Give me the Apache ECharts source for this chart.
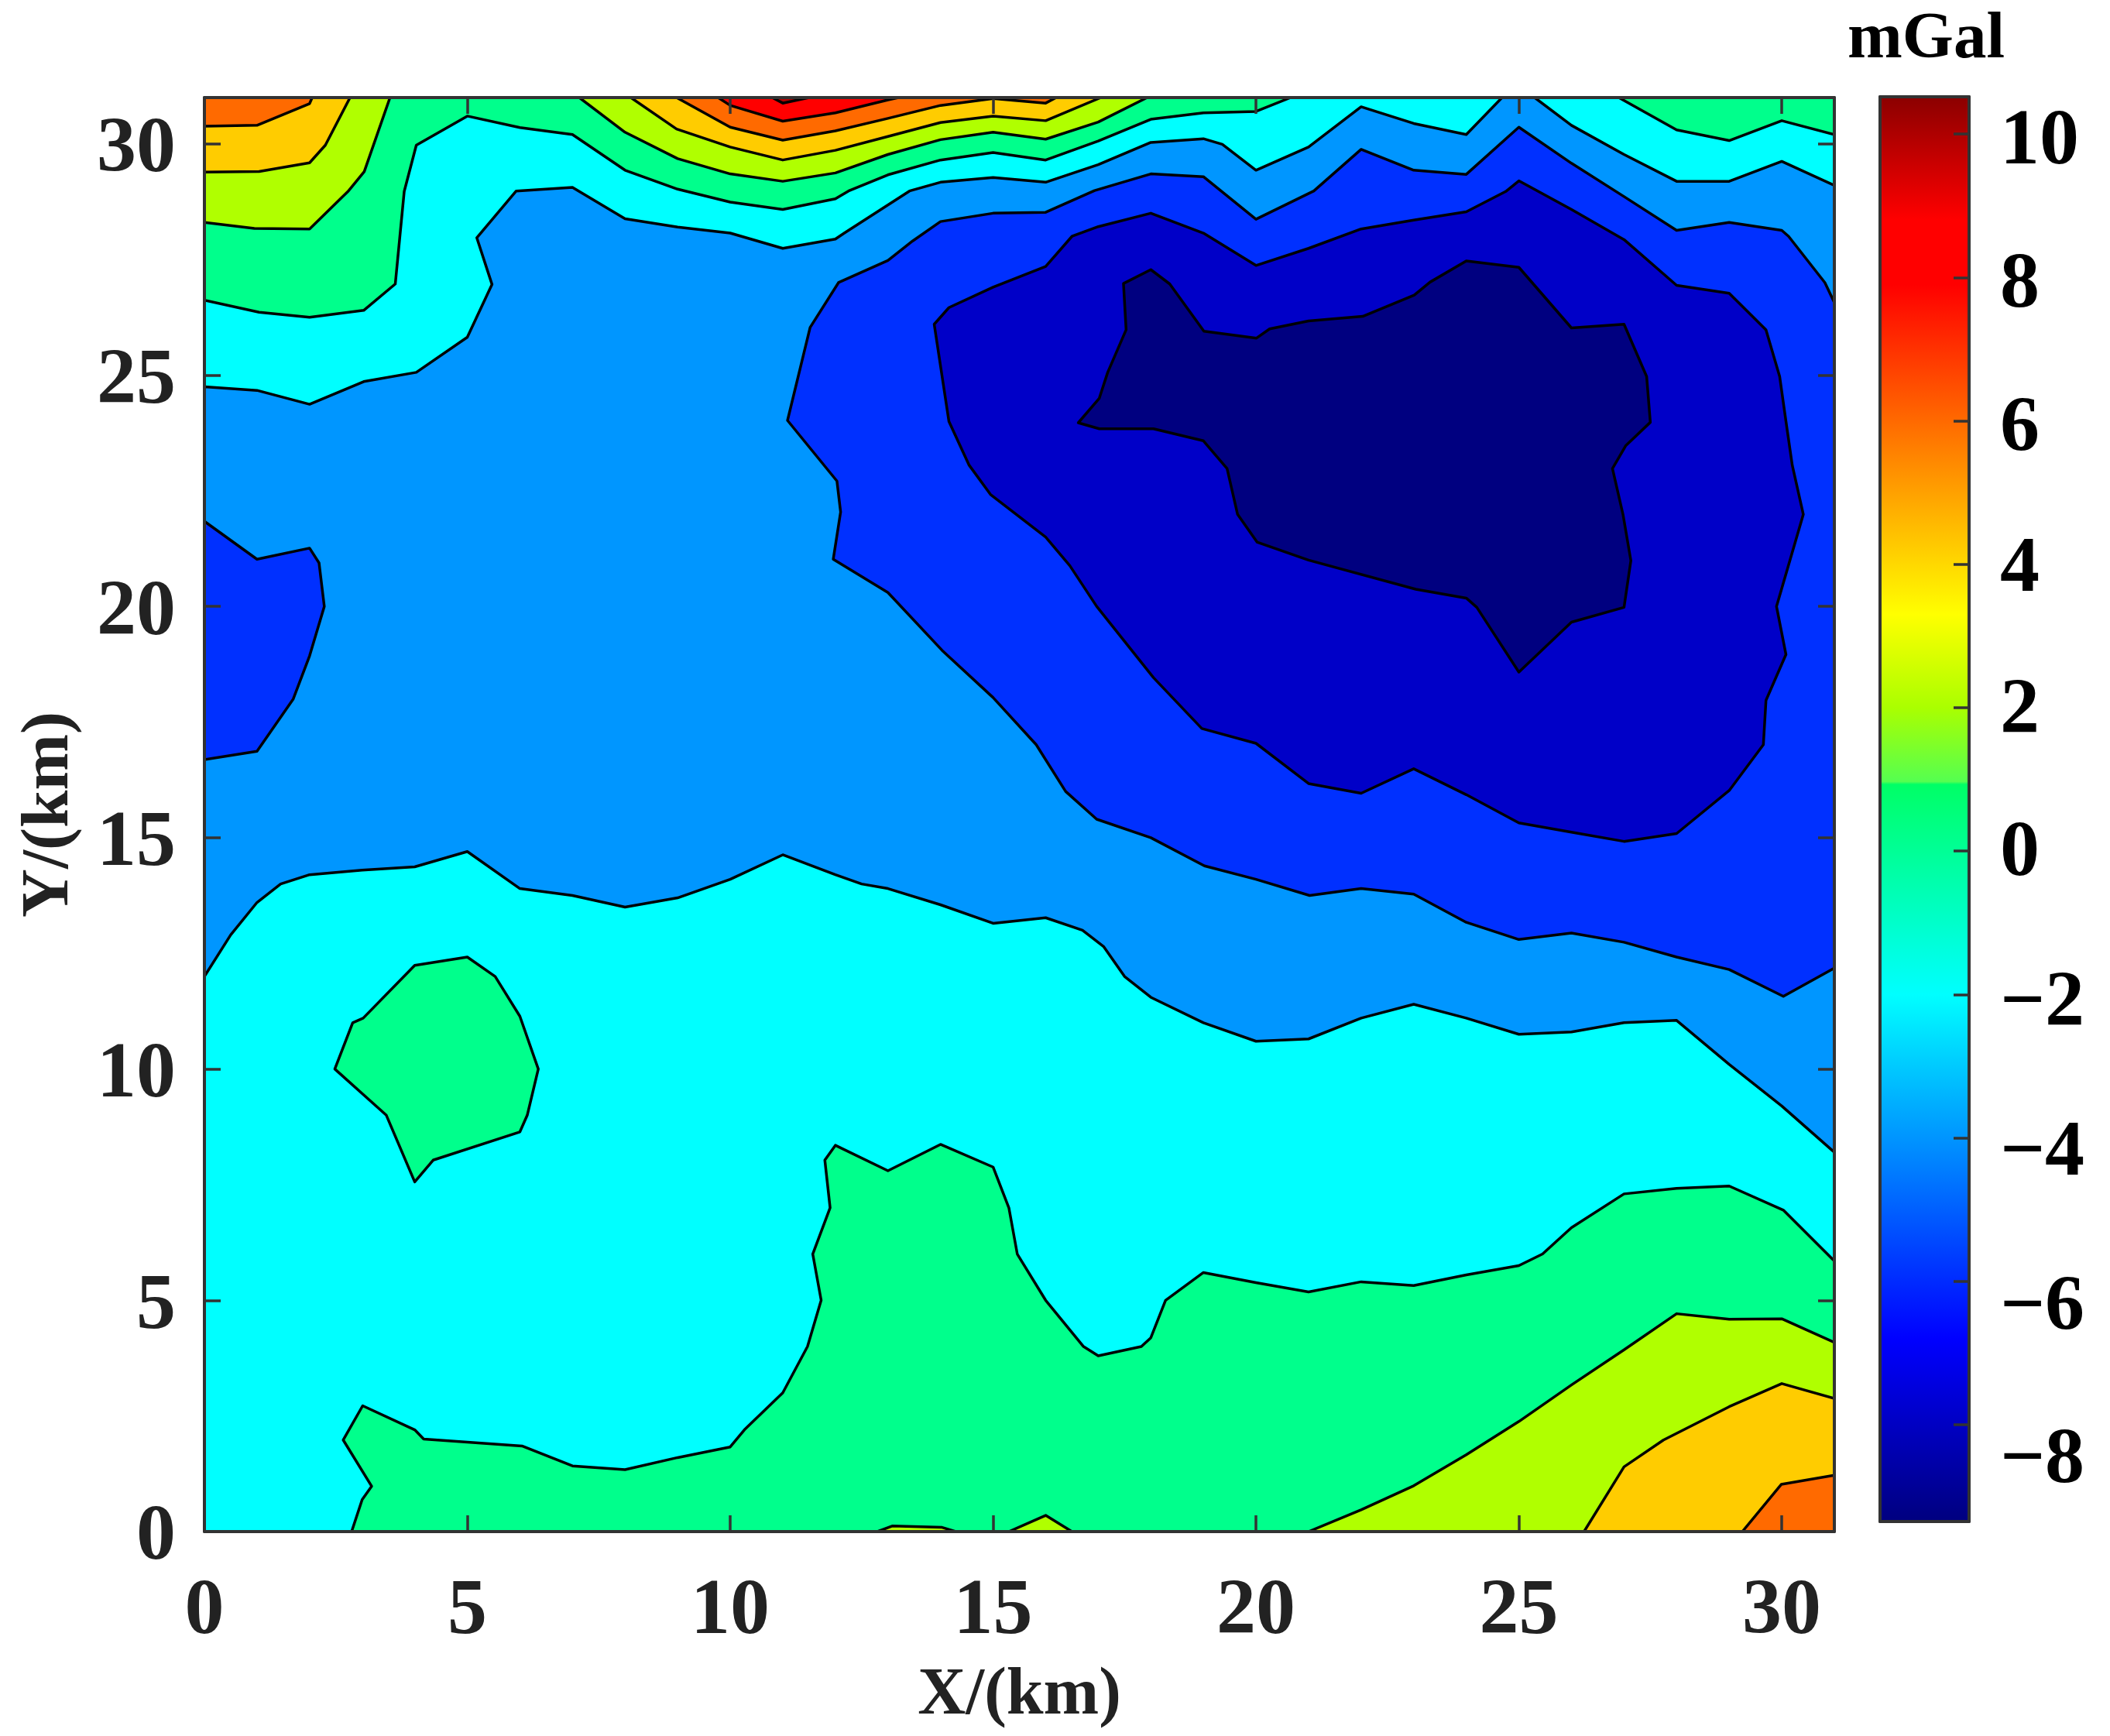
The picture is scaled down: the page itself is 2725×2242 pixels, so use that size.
<!DOCTYPE html>
<html>
<head>
<meta charset="utf-8">
<style>html,body{margin:0;padding:0;background:#fff}#chart{width:2725px;height:2242px}</style>
<script src="https://cdn.jsdelivr.net/npm/echarts@6/dist/echarts.min.js"></script>
</head>
<body>
<div id="chart"></div>
<script>
// Axis values
const xTickValues = [0, 5, 10, 15, 20, 25, 30];
const yTickValues = [0, 5, 10, 15, 20, 25, 30];
const colorbarTicks = [10, 8, 6, 4, 2, 0, -2, -4, -6, -8];
const colorbarLabels = ['10', '8', '6', '4', '2', '0', '\u22122', '\u22124', '\u22126', '\u22128'];
const colorbarLabelAnchors = [9.88, 7.88, 5.87, 3.91, 1.94, -0.05, -2.14, -4.23, -6.39, -8.52];
const colorbarValues = [10.52, 8.8, 7.9, 3.3, 2, 0.97, 0.93, 0, -2, -6.8, -9.35];
const colorbarColors = ['#8b0000', '#ff0000', '#ff0000', '#ffff00', '#aaff00', '#55ff50', '#00ff66', '#00ff96', '#00ffff', '#0000ff', '#00007f'];

// Filled contour regions, [x km, y km]
const regionBase = [[0,0],[31,0],[31,31],[0,31]];
const regionGreenTop = [[0,26.62],[1.04,26.36],[2,26.25],[3.03,26.4],[3.63,26.97],[3.8,28.97],[4.03,29.97],[5,30.6],[6,30.35],[7,30.2],[8,29.43],[9,29.02],[10,28.74],[11,28.58],[12,28.81],[12.25,28.98],[13,29.33],[14,29.65],[15,29.81],[16,29.65],[17,30.06],[18,30.53],[19,30.67],[20,30.7],[20.66,31],[0,31]];
const regionGreenTopRight = [[26.9,31],[28,30.3],[29,30.07],[30,30.5],[31,30.2],[31,31]];
const regionGreenBottom = [[2.8,0],[3,0.69],[3.18,0.98],[2.64,1.98],[3.01,2.72],[4,2.2],[4.17,2],[6.04,1.85],[7,1.42],[8,1.34],[9,1.6],[10,1.83],[10.27,2.2],[11,3],[11.47,4],[11.73,5],[11.57,6],[11.9,7],[11.8,8.03],[12,8.35],[13,7.8],[14,8.37],[15,7.88],[15.3,7],[15.46,6],[16,5],[16.72,4],[17,3.8],[17.82,4],[18,4.19],[18.28,5],[19,5.6],[20,5.38],[21,5.18],[22,5.4],[23,5.32],[24,5.55],[25,5.75],[25.45,6],[26,6.57],[27,7.3],[28,7.42],[29,7.47],[30.03,6.95],[31,5.85],[31,0]];
const regionGreenIsland = [[2.48,10],[2.82,11],[3.02,11.1],[4,12.24],[5,12.42],[5.53,12],[6,11.14],[6.35,10],[6.14,9],[6,8.64],[4.35,8.03],[4,7.56],[3.46,9],[3.02,9.45]];
const regionLimeTopLeft = [[0,28.3],[0.95,28.17],[2,28.16],[2.73,28.97],[3.04,29.4],[3.53,31],[0,31]];
const regionLimeTop = [[7.13,31],[8,30.25],[9,29.68],[10,29.35],[11,29.19],[12,29.37],[13,29.77],[14,30.09],[15,30.25],[16,30.1],[17,30.47],[17.93,31]];
const regionLimeBottomRight = [[21,0],[22,0.47],[23,0.99],[24,1.66],[25,2.38],[26,3.17],[27,3.93],[28,4.71],[29,4.59],[30,4.6],[31,4.09],[31,0]];
const regionLimeSliverA = [[12.8,0],[13.08,0.12],[14.03,0.09],[14.29,0]];
const regionLimeSliverB = [[15.3,0],[16,0.35],[16.5,0]];
const regionOrangeTopLeft = [[0,29.39],[1.04,29.4],[2,29.59],[2.3,29.97],[2.77,31],[0,31]];
const regionOrangeTop = [[8.11,31],[8.98,30.32],[10,29.93],[11,29.65],[12,29.86],[13,30.16],[14,30.46],[15,30.6],[16,30.5],[17.05,31]];
const regionOrangeBottomRight = [[26.24,0],[27,1.4],[27.75,1.98],[29,2.7],[30,3.2],[31,2.88],[31,0]];
const regionDeepOrangeTopLeft = [[0,30.38],[1,30.4],[2,30.87],[2.05,31],[0,31]];
const regionDeepOrangeTop = [[8.98,31],[10,30.36],[11,30.08],[12,30.28],[13,30.55],[14,30.83],[15,30.98],[16,30.88],[16.2,31]];
const regionDeepOrangeBottomRight = [[29.25,0],[29.99,1.02],[31,1.22],[31,0]];
const regionRedTop = [[9.77,31],[10,30.83],[11,30.49],[12,30.67],[13,30.95],[13.2,31]];
const regionDarkRedTop = [[10.8,31],[11,30.88],[11.5,31]];
const regionMidBlue = [[0,12],[0.5,12.9],[1,13.6],[1.45,14],[2,14.2],[3,14.3],[4,14.37],[5,14.7],[6,13.9],[7,13.75],[8,13.5],[9,13.7],[10,14.1],[11,14.63],[12,14.2],[12.5,14],[13,13.9],[14,13.55],[15,13.15],[16,13.27],[16.7,13],[17.1,12.65],[17.5,12],[18,11.55],[19,11],[20,10.6],[21,10.65],[22,11.1],[23,11.4],[24,11.1],[25,10.75],[26,10.8],[27,11],[28,11.05],[29,10.1],[30,9.2],[31,8.2],[31,29.1],[30,29.62],[29,29.19],[28,29.19],[27,29.77],[26,30.4],[25.3,31],[24.68,31],[24,30.2],[23,30.44],[22,30.8],[21,29.93],[20,29.43],[19.36,29.99],[19,30.11],[18,30.03],[17,29.55],[16,29.17],[15,29.27],[14,29.17],[13.41,28.98],[12.17,28.07],[12,27.94],[11,27.74],[10,28.07],[9,28.2],[8,28.38],[7,29.06],[5.93,28.98],[5.18,27.97],[5.47,26.96],[5,25.82],[4.03,25.06],[3.03,24.86],[2,24.37],[1,24.67],[0,24.75]];
const regionDeepBlueLeft = [[0,21.84],[1,21.02],[2,21.26],[2.18,20.94],[2.28,20],[2,18.93],[1.69,18],[1,16.87],[0,16.69]];
const regionDeepBlueMain = [[31,26.57],[30.82,27],[30.13,28],[30,28.13],[29,28.3],[28,28.13],[27,28.86],[26,29.58],[25,30.36],[24,29.34],[23,29.43],[22,29.88],[21.1,28.98],[20,28.37],[19,29.29],[18,29.35],[16.93,28.99],[16,28.52],[15,28.5],[14,28.32],[13.47,27.9],[13,27.48],[12.06,27],[11.52,26.03],[11.09,24.02],[12.03,22.71],[12.1,22.04],[11.96,21.02],[13,20.3],[14.03,19.05],[15,18.03],[15.82,17.01],[16.38,16],[16.97,15.4],[18,15],[19.02,14.39],[20,14.1],[21.02,13.75],[22,13.9],[23,13.78],[24,13.17],[25,12.8],[26,12.94],[27,12.74],[28,12.42],[29,12.15],[30.03,11.57],[31,12.18]];
const regionDarkBlue = [[28,26.94],[27,27.93],[26,28.58],[25,29.2],[24.75,28.97],[24,28.53],[23,28.35],[22,28.16],[21,27.74],[20,27.37],[19,28.07],[18,28.5],[17,28.21],[16.5,28],[16,27.35],[15,26.9],[14.16,26.46],[13.88,26.1],[14.16,24],[14.54,23.06],[14.95,22.42],[16,21.5],[16.46,20.88],[16.97,20],[18.05,18.46],[18.97,17.36],[20,17.04],[21,16.17],[22,15.96],[23,16.49],[24,15.93],[25,15.32],[26,15.12],[27,14.92],[28,15.09],[29,16.02],[29.65,17.01],[29.7,17.97],[30.08,18.96],[29.9,20],[30.41,21.99],[30.2,23.05],[30.08,24],[29.96,24.97],[29.7,25.98],[29,26.77]];
const regionNavy = [[24,27.47],[25,27.33],[26,26.02],[27,26.1],[27.43,24.97],[27.5,23.98],[27.03,23.47],[26.78,22.98],[26.98,21.99],[27.13,20.99],[27,19.98],[26,19.66],[25,18.58],[24.2,19.98],[24,20.18],[23.04,20.37],[21,21],[20.02,21.39],[19.65,21.99],[19.45,22.98],[19,23.58],[18.05,23.84],[17.02,23.84],[16.62,23.97],[17.02,24.5],[17.18,25.06],[17.53,25.98],[17.48,26.98],[18,27.28],[18.36,26.97],[19.01,25.95],[20.01,25.8],[20.26,26],[21,26.17],[22.03,26.27],[23.01,26.73],[23.31,27.01]];

// Paint order: lowest first; each later region lies on the earlier ones
const regions = [
  regionBase, regionGreenTop, regionGreenTopRight, regionGreenBottom, regionGreenIsland,
  regionLimeTopLeft, regionLimeTop, regionLimeBottomRight, regionLimeSliverA, regionLimeSliverB,
  regionOrangeTopLeft, regionOrangeTop, regionOrangeBottomRight,
  regionDeepOrangeTopLeft, regionDeepOrangeTop, regionDeepOrangeBottomRight,
  regionRedTop, regionDarkRedTop,
  regionMidBlue, regionDeepBlueLeft, regionDeepBlueMain, regionDarkBlue, regionNavy
];
const regionColors = [
  '#00ffff', '#00ff8c', '#00ff8c', '#00ff8c', '#00ff8c',
  '#b0ff00', '#b0ff00', '#b0ff00', '#b0ff00', '#b0ff00',
  '#ffcc00', '#ffcc00', '#ffcc00',
  '#ff6a00', '#ff6a00', '#ff6a00',
  '#ff0000', '#b00000',
  '#0096ff', '#0030ff', '#0030ff', '#0000c8', '#000080'
];

const FONT = '"Liberation Serif","Times New Roman",serif';
const FRAME = '#333333';
const TICK_LEN = 21;

const cbMin = colorbarValues[colorbarValues.length - 1];
const cbMax = colorbarValues[0];
const labelByAnchor = new Map(colorbarLabelAnchors.map((v, i) => [v, colorbarLabels[i]]));

function frameLine() { return { show: true, onZero: false, lineStyle: { color: FRAME, width: 4 } }; }
function ticks(values, len) {
  return { show: true, inside: true, length: len, customValues: values, lineStyle: { color: FRAME, width: 3.5 } };
}

const chart = echarts.init(document.getElementById('chart'), null, { renderer: 'canvas' });
chart.setOption({
  animation: false,
  backgroundColor: '#ffffff',
  title: {
    text: 'mGal', left: 2381, top: 5,
    textStyle: { fontFamily: FONT, fontWeight: 'bold', fontSize: 85, color: '#000000' }
  },
  grid: [
    { left: 264, top: 126, width: 2105, height: 1852, containLabel: false },
    { left: 2428, top: 125, width: 115, height: 1840, containLabel: false },
    { left: 264, top: 135, width: 2105, height: 1852, containLabel: false }
  ],
  xAxis: [
    {
      type: 'value', gridIndex: 0, position: 'bottom', min: 0, max: 31, z: 6,
      axisLine: frameLine(), axisTick: ticks(xTickValues, TICK_LEN), splitLine: { show: false },
      axisLabel: { customValues: xTickValues, margin: 54, fontFamily: FONT, fontWeight: 'bold', fontSize: 102, color: '#222222' },
      name: 'X/(km)', nameLocation: 'middle', nameGap: 170,
      nameTextStyle: { fontFamily: FONT, fontWeight: 'bold', fontSize: 86, color: '#222222' }
    },
    {
      type: 'value', gridIndex: 0, position: 'top', min: 0, max: 31, z: 6,
      axisLine: frameLine(), axisTick: ticks(xTickValues, TICK_LEN), splitLine: { show: false },
      axisLabel: { show: false }
    },
    {
      type: 'value', gridIndex: 1, position: 'bottom', min: 0, max: 1, z: 6,
      axisLine: frameLine(), axisTick: { show: false }, splitLine: { show: false }, axisLabel: { show: false }
    },
    {
      type: 'value', gridIndex: 1, position: 'top', min: 0, max: 1, z: 6,
      axisLine: frameLine(), axisTick: { show: false }, splitLine: { show: false }, axisLabel: { show: false }
    },
    {
      type: 'value', gridIndex: 2, position: 'bottom', min: 0, max: 31, show: false
    }
  ],
  yAxis: [
    {
      type: 'value', gridIndex: 0, position: 'left', min: 0, max: 31, z: 6,
      axisLine: frameLine(), axisTick: ticks(yTickValues, TICK_LEN), splitLine: { show: false },
      axisLabel: { show: false },
      name: 'Y/(km)', nameLocation: 'middle', nameGap: 156, nameRotate: 90,
      nameTextStyle: { fontFamily: FONT, fontWeight: 'bold', fontSize: 87, color: '#222222' }
    },
    {
      type: 'value', gridIndex: 0, position: 'right', min: 0, max: 31, z: 6,
      axisLine: frameLine(), axisTick: ticks(yTickValues, TICK_LEN), splitLine: { show: false },
      axisLabel: { show: false }
    },
    {
      type: 'value', gridIndex: 1, position: 'left', min: cbMin, max: cbMax, z: 6,
      axisLine: frameLine(), axisTick: { show: false }, splitLine: { show: false }, axisLabel: { show: false }
    },
    {
      type: 'value', gridIndex: 1, position: 'right', min: cbMin, max: cbMax, z: 6,
      axisLine: frameLine(), axisTick: ticks(colorbarTicks, 20), splitLine: { show: false },
      axisLabel: {
        customValues: colorbarLabelAnchors, margin: 40, align: 'left',
        fontFamily: FONT, fontWeight: 'bold', fontSize: 102, color: '#000000',
        formatter: function (v) { return labelByAnchor.get(v) || ''; }
      }
    },
    {
      // Labels only: their grid sits slightly lower, as the printed numerals do
      type: 'value', gridIndex: 2, position: 'left', min: 0, max: 31, z: 6,
      axisLine: { show: false }, axisTick: { show: false }, splitLine: { show: false },
      axisLabel: { customValues: yTickValues, margin: 37, fontFamily: FONT, fontWeight: 'bold', fontSize: 102, color: '#222222' }
    }
  ],
  series: [
    {
      type: 'custom', xAxisIndex: 0, yAxisIndex: 0, coordinateSystem: 'cartesian2d', clip: true, silent: true,
      data: regions.map(function (r, i) { return [i]; }),
      renderItem: function (params, api) {
        const i = api.value(0);
        return {
          type: 'polygon',
          shape: { points: regions[i].map(function (p) { return api.coord(p); }) },
          style: { fill: regionColors[i], stroke: '#000000', lineWidth: 3.5, lineJoin: 'round' }
        };
      }
    },
    {
      type: 'custom', xAxisIndex: 2, yAxisIndex: 2, coordinateSystem: 'cartesian2d', clip: true, silent: true,
      data: [[0, cbMax, 1, cbMin]],
      renderItem: function (params, api) {
        const a = api.coord([api.value(0), api.value(1)]);
        const b = api.coord([api.value(2), api.value(3)]);
        const stops = colorbarValues.map(function (v, i) {
          return { offset: (cbMax - v) / (cbMax - cbMin), color: colorbarColors[i] };
        });
        return {
          type: 'rect',
          shape: { x: a[0], y: a[1], width: b[0] - a[0], height: b[1] - a[1] },
          style: { fill: new echarts.graphic.LinearGradient(0, 0, 0, 1, stops) }
        };
      }
    }
  ]
});
</script>
</body>
</html>
